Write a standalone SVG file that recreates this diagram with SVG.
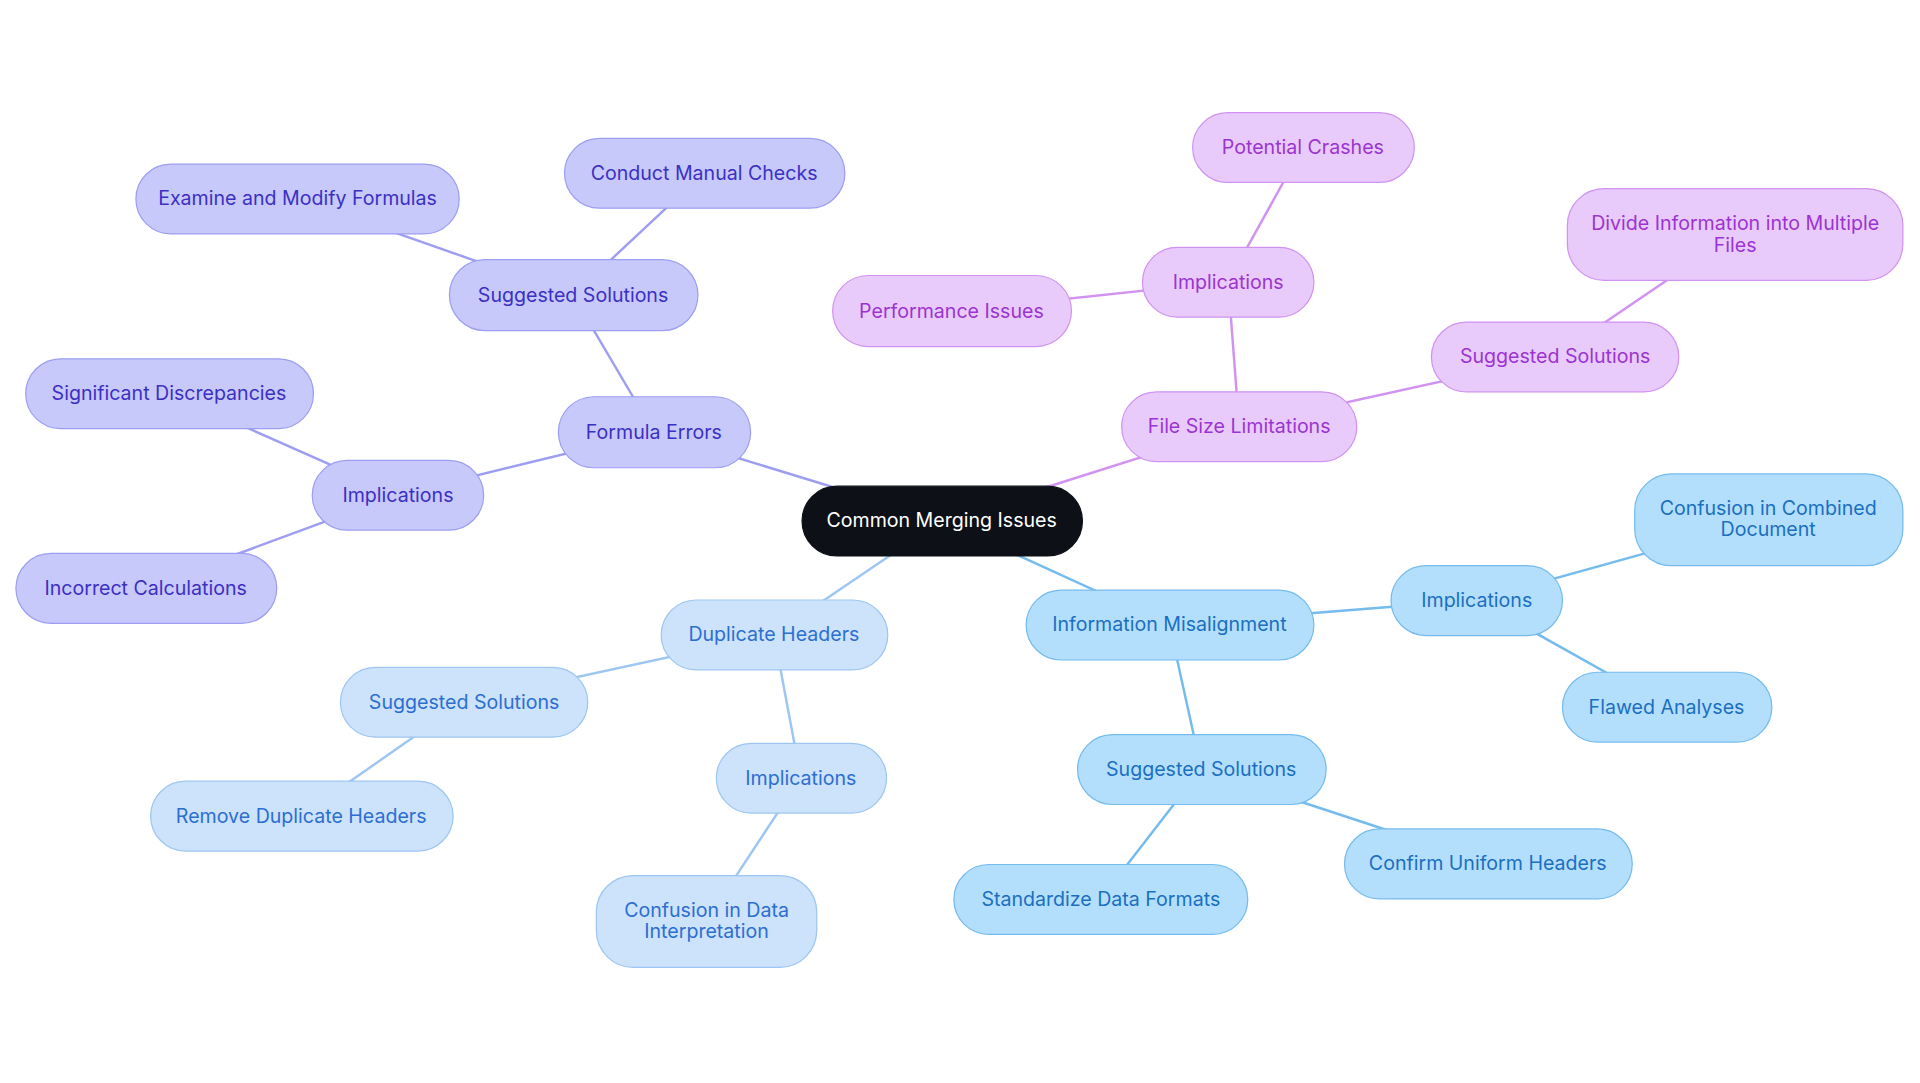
<svg xmlns="http://www.w3.org/2000/svg" width="1920" height="1083" viewBox="0 0 1920 1083">
<style>
text{font-family:Inter,"Noto Sans",sans-serif;font-size:16px;text-anchor:middle;dominant-baseline:central}
.a rect{fill:#c8c9fb;stroke:#9d9ef2}.a text{fill:#3b30c4}
.b rect{fill:#e9cbfb;stroke:#d192f1}.b text{fill:#9b34d2}
.c rect{fill:#cde2fb;stroke:#9dc6f2}.c text{fill:#2b6fd2}
.d rect{fill:#b4dffc;stroke:#74bbee}.d text{fill:#1a6fc1}
.e rect{fill:#0d1117;stroke:#0d1117}.e text{fill:#fff}
#links line{stroke-width:2}
</style>
<rect width="1920" height="1083" fill="#fff"/>
<g transform="scale(1.2245)">
<g id="links">
<g stroke="#9d9ef2"><line x1="769" y1="425" x2="534" y2="353"/><line x1="534" y1="353" x2="468" y2="241"/><line x1="468" y1="241" x2="575" y2="141"/><line x1="468" y1="241" x2="243" y2="162"/><line x1="534" y1="353" x2="325" y2="404"/><line x1="325" y1="404" x2="138" y2="321"/><line x1="325" y1="404" x2="119" y2="480"/></g>
<g stroke="#d192f1"><line x1="769" y1="425" x2="1012" y2="348"/><line x1="1012" y1="348" x2="1003" y2="230"/><line x1="1003" y1="230" x2="1064" y2="120"/><line x1="1003" y1="230" x2="777" y2="254"/><line x1="1012" y1="348" x2="1270" y2="291"/><line x1="1270" y1="291" x2="1417" y2="191"/></g>
<g stroke="#9dc6f2"><line x1="769" y1="425" x2="632" y2="518"/><line x1="632" y1="518" x2="379" y2="573"/><line x1="379" y1="573" x2="246" y2="666"/><line x1="632" y1="518" x2="654" y2="635"/><line x1="654" y1="635" x2="577" y2="752"/></g>
<g stroke="#74bbee"><line x1="769" y1="425" x2="955" y2="510"/><line x1="955" y1="510" x2="1206" y2="490"/><line x1="1206" y1="490" x2="1444" y2="424"/><line x1="1206" y1="490" x2="1361" y2="577"/><line x1="955" y1="510" x2="981" y2="628"/><line x1="981" y1="628" x2="1215" y2="705"/><line x1="981" y1="628" x2="899" y2="734"/></g>
</g>
<g id="center" class="e"><rect x="655" y="397" width="229" height="57" rx="28.5"/><text x="769" y="425">Common Merging Issues</text></g>
<g id="fe" class="a"><rect x="456" y="324" width="157" height="58" rx="29"/><text x="534" y="353">Formula Errors</text></g>
<g id="fe-s" class="a"><rect x="367" y="212" width="203" height="58" rx="29"/><text x="468" y="241">Suggested Solutions</text></g>
<g id="fe-s1" class="a"><rect x="461" y="113" width="229" height="57" rx="28.5"/><text x="575" y="141">Conduct Manual Checks</text></g>
<g id="fe-s2" class="a"><rect x="111" y="134" width="264" height="57" rx="28.5"/><text x="243" y="162">Examine and Modify Formulas</text></g>
<g id="fe-i" class="a"><rect x="255" y="376" width="140" height="57" rx="28.5"/><text x="325" y="404">Implications</text></g>
<g id="fe-i1" class="a"><rect x="21" y="293" width="235" height="57" rx="28.5"/><text x="138" y="321">Significant Discrepancies</text></g>
<g id="fe-i2" class="a"><rect x="13" y="452" width="213" height="57" rx="28.5"/><text x="119" y="480">Incorrect Calculations</text></g>
<g id="fs" class="b"><rect x="916" y="320" width="192" height="57" rx="28.5"/><text x="1012" y="348">File Size Limitations</text></g>
<g id="fs-i" class="b"><rect x="933" y="202" width="140" height="57" rx="28.5"/><text x="1003" y="230">Implications</text></g>
<g id="fs-i1" class="b"><rect x="974" y="92" width="181" height="57" rx="28.5"/><text x="1064" y="120">Potential Crashes</text></g>
<g id="fs-i2" class="b"><rect x="680" y="225" width="195" height="58" rx="29"/><text x="777" y="254">Performance Issues</text></g>
<g id="fs-s" class="b"><rect x="1169" y="263" width="202" height="57" rx="28.5"/><text x="1270" y="291">Suggested Solutions</text></g>
<g id="fs-s1" class="b"><rect x="1280" y="154" width="274" height="75" rx="30"/><text x="1417" y="182">Divide Information into Multiple</text><text x="1417" y="200">Files</text></g>
<g id="dh" class="c"><rect x="540" y="490" width="185" height="57" rx="28.5"/><text x="632" y="518">Duplicate Headers</text></g>
<g id="dh-s" class="c"><rect x="278" y="545" width="202" height="57" rx="28.5"/><text x="379" y="573">Suggested Solutions</text></g>
<g id="dh-s1" class="c"><rect x="123" y="638" width="247" height="57" rx="28.5"/><text x="246" y="666">Remove Duplicate Headers</text></g>
<g id="dh-i" class="c"><rect x="585" y="607" width="139" height="57" rx="28.5"/><text x="654" y="635">Implications</text></g>
<g id="dh-i1" class="c"><rect x="487" y="715" width="180" height="75" rx="30"/><text x="577" y="743">Confusion in Data</text><text x="577" y="760">Interpretation</text></g>
<g id="im" class="d"><rect x="838" y="482" width="235" height="57" rx="28.5"/><text x="955" y="510">Information Misalignment</text></g>
<g id="im-i" class="d"><rect x="1136" y="462" width="140" height="57" rx="28.5"/><text x="1206" y="490">Implications</text></g>
<g id="im-i1" class="d"><rect x="1335" y="387" width="219" height="75" rx="30"/><text x="1444" y="415">Confusion in Combined</text><text x="1444" y="432">Document</text></g>
<g id="im-i2" class="d"><rect x="1276" y="549" width="171" height="57" rx="28.5"/><text x="1361" y="577">Flawed Analyses</text></g>
<g id="im-s" class="d"><rect x="880" y="600" width="203" height="57" rx="28.5"/><text x="981" y="628">Suggested Solutions</text></g>
<g id="im-s1" class="d"><rect x="1098" y="677" width="235" height="57" rx="28.5"/><text x="1215" y="705">Confirm Uniform Headers</text></g>
<g id="im-s2" class="d"><rect x="779" y="706" width="240" height="57" rx="28.5"/><text x="899" y="734">Standardize Data Formats</text></g>
</g>
</svg>
